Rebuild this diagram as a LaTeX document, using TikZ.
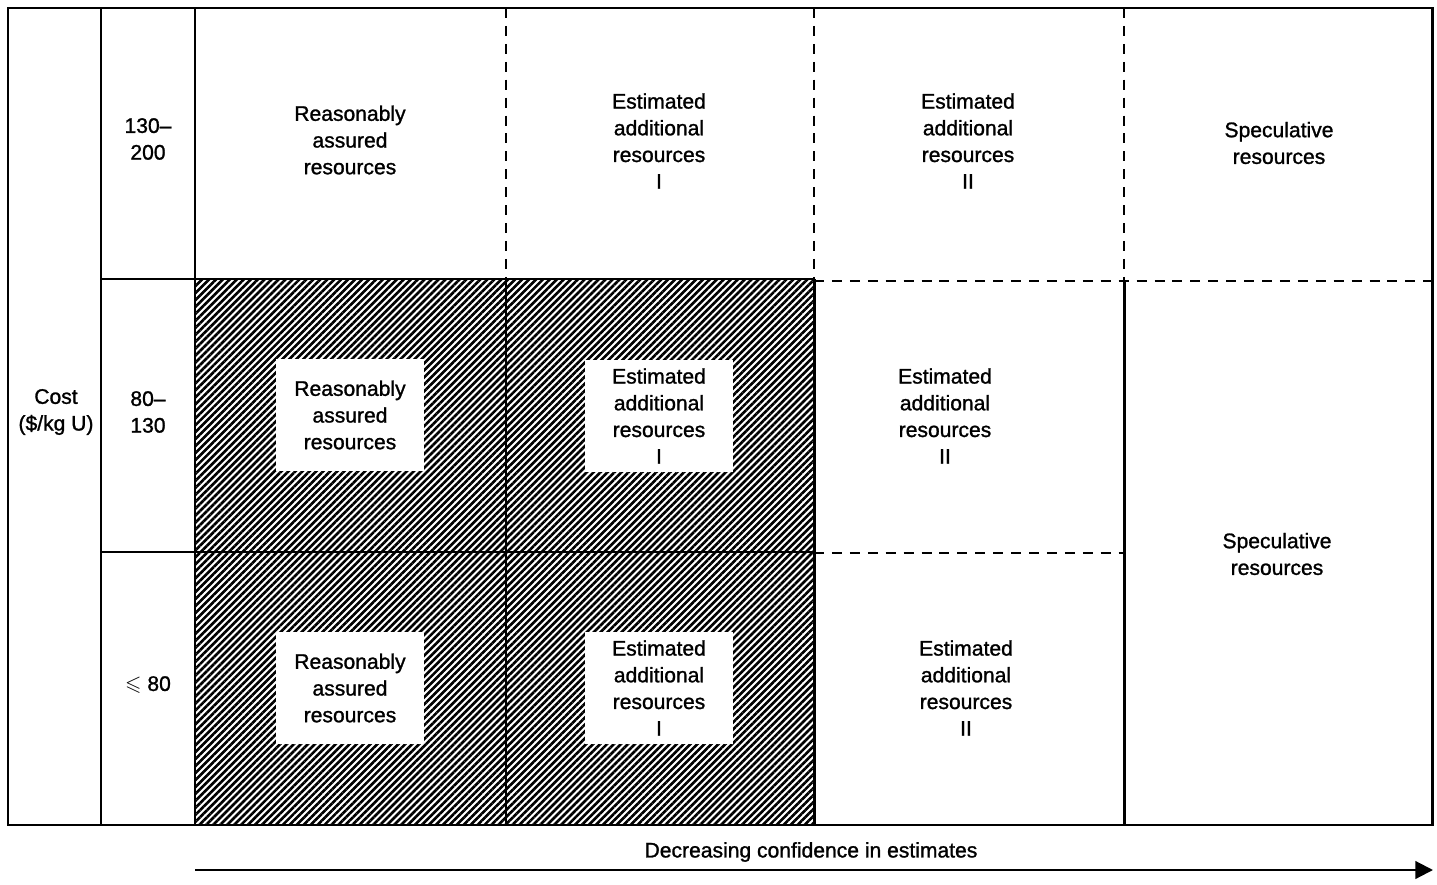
\documentclass[tikz,border=0pt]{standalone}
\usepackage{amssymb}
\usepackage{fontspec}
\setmainfont[FakeBold=1.2,AutoFakeBold=1.2]{Liberation Sans}
\usetikzlibrary{patterns.meta,arrows.meta,positioning}
\tikzset{
  lbl/.style={align=center,inner sep=0pt,font=\fontsize{12}{15.2}\selectfont\bfseries},
  frame/.style={line width=1.7pt},
  gridline/.style={line width=1.1pt},
  dashline/.style={line width=1.2pt,dash pattern=on 5.7pt off 4.5pt},
  hatch/.style={pattern={Lines[angle=45,distance=2.8pt,line width=1.5pt]}},
  whitebox/.style={lbl,fill=white,minimum width=2.96cm,minimum height=2.24cm}
}
\begin{document}
\begin{tikzpicture}[x=0.02cm,y=-0.02cm]
\useasboundingbox (0,0) rectangle (1437,885);

\fill[hatch] (195,279) rectangle (814,825);

\draw[frame] (8,8) rectangle (1432,825);
\foreach \x in {101,195} {
\draw[frame] (\x,8) -- (\x,825);
}
\foreach \x in {506,814,1124} {
\draw[dashline] (\x,8) -- (\x,280);
}
\draw[frame] (101,279) -- (814,279);
\draw[gridline] (101,552) -- (814,552);
\draw[gridline] (506,279) -- (506,825);
\draw[frame] (814,279) -- (814,825);
\draw[frame] (1124,281) -- (1124,825);
\draw[dashline] (814,281) -- (1432,281);
\draw[dashline] (814,553) -- (1124,553);

\node[lbl] (cost) at (56,412) {Cost\\(\$/kg U)};
\node[lbl] (r0) at (148,139) {130--\\200};
\node[lbl] (r1) at (148,412) {80--\\130};
\node[lbl] (r2) at (148,685) {$\leqslant$ 80};

\node[lbl] (rar0) at (350,140) {Reasonably\\assured\\resources};
\node[lbl] (eai0) at (659,141) {Estimated\\additional\\resources\\I};
\node[lbl] (eaii0) at (968,141) {Estimated\\additional\\resources\\II};
\node[lbl] (spec0) at (1279,143) {Speculative\\resources};

\node[whitebox] (rar1) at (350,415) {Reasonably\\assured\\resources};
\node[whitebox] (eai1) at (659,416) {Estimated\\additional\\resources\\I};
\node[lbl] (eaii1) at (945,416) {Estimated\\additional\\resources\\II};

\node[whitebox] (rar2) at (350,688) {Reasonably\\assured\\resources};
\node[whitebox] (eai2) at (659,688) {Estimated\\additional\\resources\\I};
\node[lbl] (eaii2) at (966,688) {Estimated\\additional\\resources\\II};

\node[lbl] (spec1) at (1277,554) {Speculative\\resources};

\coordinate (a0) at (195,870);
\coordinate (a1) at (1433,870);
\draw[line width=1.2pt,-{Triangle[length=10pt,width=10pt]}] (a0) -- (a1);
\node[lbl] (conf) at (811,852) {Decreasing confidence in estimates};
\end{tikzpicture}
\end{document}
